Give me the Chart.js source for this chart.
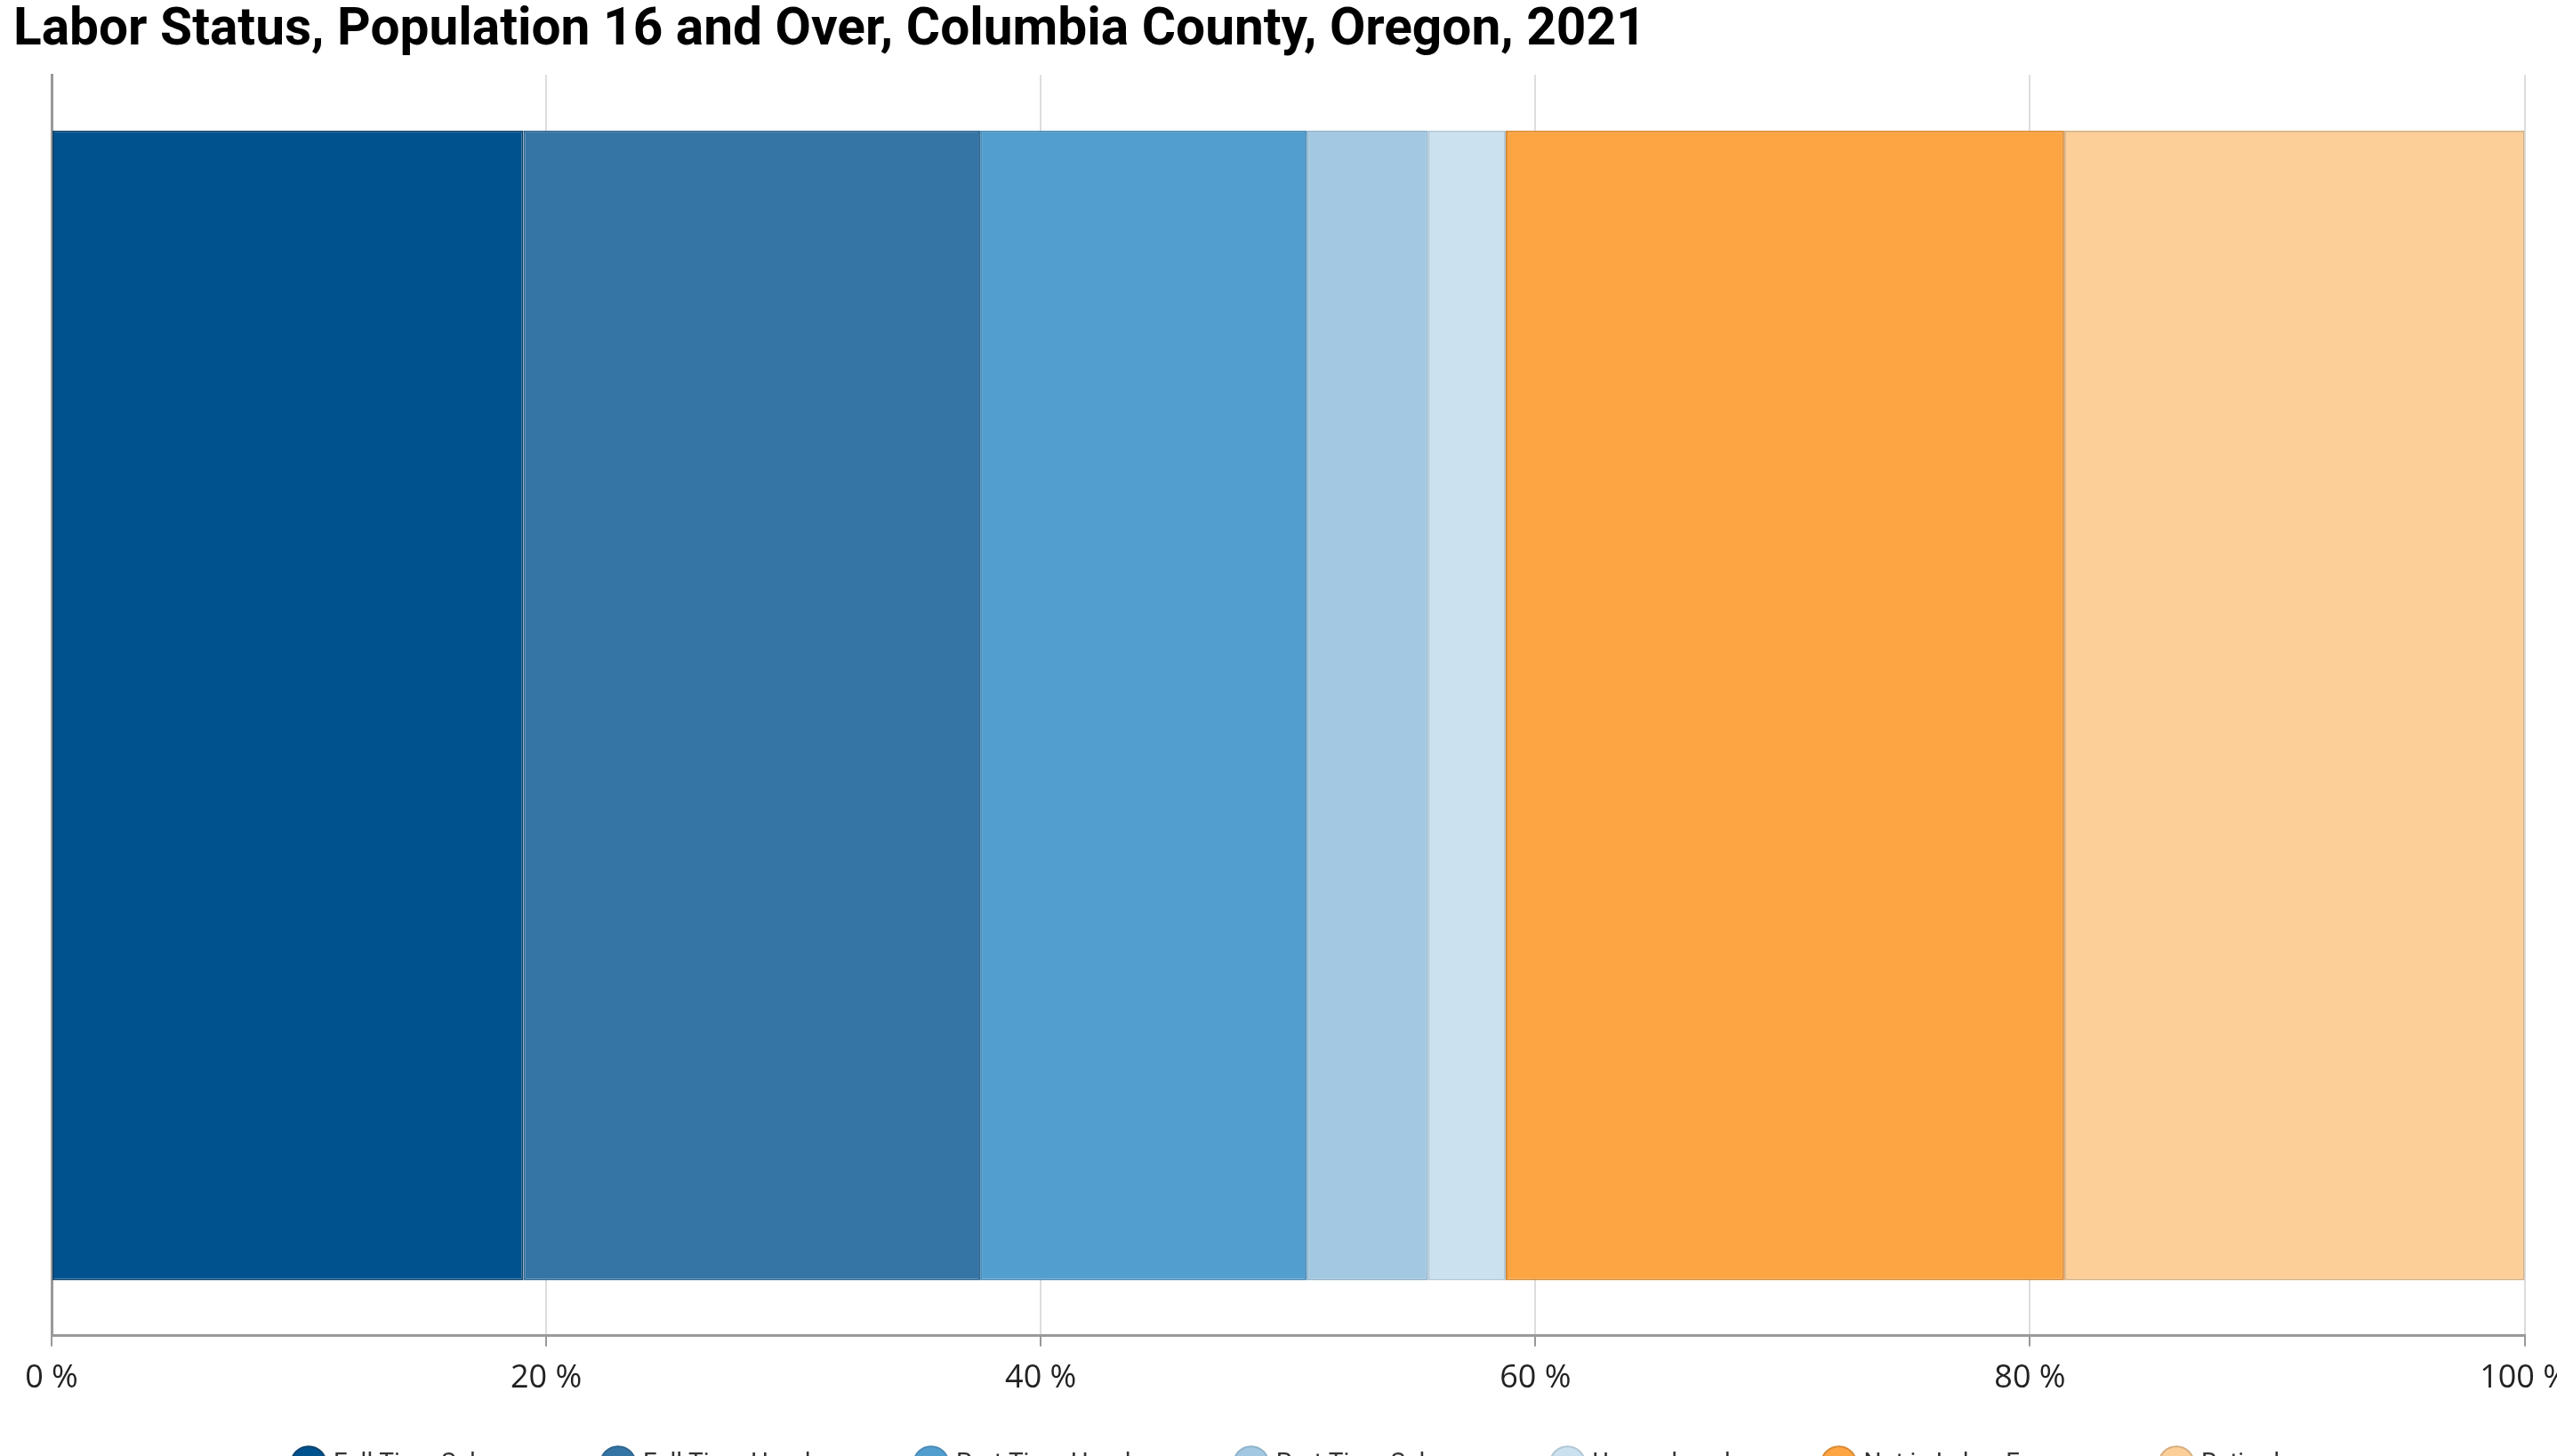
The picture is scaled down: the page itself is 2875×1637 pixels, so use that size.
<!DOCTYPE html>
<html>
<head>
<meta charset="utf-8">
<script src="https://cdn.jsdelivr.net/npm/chart.js@4.4.1/dist/chart.umd.min.js"></script>
<style>
  html, body { margin: 0; padding: 0; background: #fff; overflow: hidden; }
  #wrap { width: 2875px; height: 1637px; overflow: hidden; position: relative; }
  #box { width: 2903px; height: 1731px; position: absolute; left: 0; top: 0; }
</style>
</head>
<body>
<div id="wrap"><div id="box"><canvas id="chart"></canvas></div></div>
<script>
// 値（パーセント）
const categories = ['Columbia County'];
const seriesLabels = ['Full Time Salary', 'Full Time Hourly', 'Part Time Hourly', 'Part Time Salary', 'Unemployed', 'Not in Labor Force', 'Retired'];
const seriesValues = [19.08, 18.47, 13.20, 4.91, 3.14, 22.58, 18.62];
const xTickValues = [0, 20, 40, 60, 80, 100];

// 色
const fillColors = ['#00528f', '#3575a6', '#529ecf', '#a3c9e2', '#cbe1ef', '#fda543', '#fdcf98'];
const edgeColors = ['#0d446e', '#2f6690', '#4a8cb6', '#8fb3cb', '#b2c7d5', '#d98a35', '#d4ae80'];

const datasets = seriesLabels.map((label, i) => ({
    label: label,
    data: [seriesValues[i]],
    backgroundColor: fillColors[i],
    borderColor: edgeColors[i],
    borderWidth: 2,
    borderSkipped: false,
    categoryPercentage: 1,
    barPercentage: 0.912
}));

// 凡例の描画位置だけを少しずらす
const legendLift = {
    id: 'legendLift',
    beforeLayout(chart) {
        const lg = chart.legend;
        if (lg && !lg._lifted) {
            const origDraw = lg.draw.bind(lg);
            lg.draw = function(area) {
                this.ctx.save();
                this.ctx.translate(18, -61);
                origDraw(area);
                this.ctx.restore();
            };
            lg._lifted = true;
        }
    }
};

new Chart(document.getElementById('chart'), {
    type: 'bar',
    data: { labels: categories, datasets: datasets },
    plugins: [legendLift],
    options: {
        indexAxis: 'y',
        responsive: true,
        maintainAspectRatio: false,
        animation: false,
        layout: { padding: { left: 15, right: 58, top: 0, bottom: 0 } },
        plugins: {
            title: {
                display: true,
                text: 'Labor Status, Population 16 and Over, Columbia County, Oregon, 2021',
                align: 'start',
                color: '#000',
                font: { family: 'Roboto', size: 58.6, weight: 'bold' },
                padding: { top: 0, bottom: 14 }
            },
            legend: {
                position: 'bottom',
                labels: {
                    usePointStyle: true,
                    pointStyle: 'circle',
                    color: '#333',
                    font: { family: 'Roboto', size: 28 },
                    padding: 108
                }
            },
            tooltip: { enabled: false }
        },
        scales: {
            x: {
                stacked: true,
                min: 0,
                max: 100,
                afterBuildTicks: axis => { axis.ticks = xTickValues.map(v => ({ value: v })); },
                ticks: {
                    color: '#222',
                    font: { family: 'Open Sans', size: 36 },
                    padding: 14,
                    maxRotation: 0,
                    callback: v => v + ' %'
                },
                grid: { color: '#dddddd', lineWidth: 2, tickLength: 12, tickColor: '#999' },
                border: { color: '#999', width: 3 }
            },
            y: {
                stacked: true,
                ticks: { display: false },
                grid: { display: false },
                border: { display: true, color: '#999', width: 3 },
                afterFit: s => { s.width = 43; }
            }
        }
    }
});
</script>
</body>
</html>
